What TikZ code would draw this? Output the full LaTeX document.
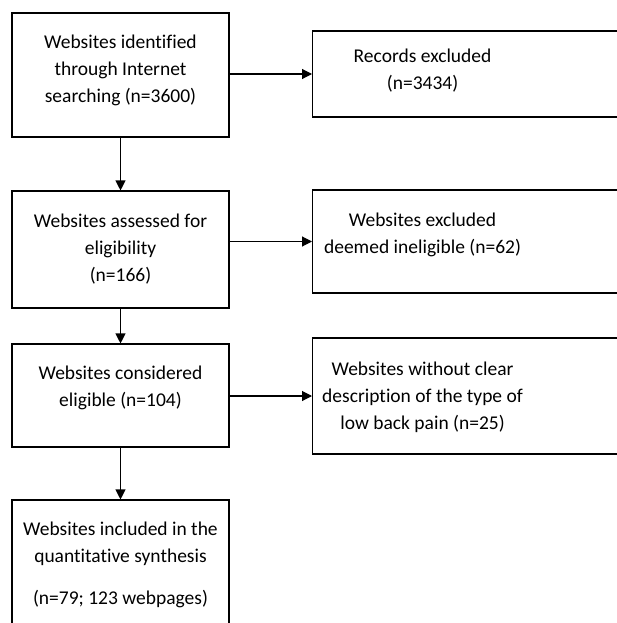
\documentclass[tikz,border=0pt]{standalone}
\usepackage{fontspec}
\setmainfont{Carlito}[Ligatures=NoCommon]
\usepackage{tikz}
\usetikzlibrary{arrows.meta, calc, positioning}

\tikzset{
    flowbox/.style={draw, line width=1.1pt, minimum width=217pt, align=center,
        font=\fontsize{19.5}{27}\selectfont},
    outbox/.style={draw, line width=1.1pt, minimum width=330pt, anchor=west},
    outtext/.style={align=center, font=\fontsize{19.5}{27}\selectfont},
    flowarrow/.style={draw, -{Triangle[length=10pt,width=10pt]}, line width=1.1pt}
}

\begin{document}
\begin{tikzpicture}[x=1pt, y=-1pt]
                        \clip (0,0) rectangle (617,623);
                        \fill[white] (0,0) rectangle (617,623);
                        % main column
                        \node[flowbox, minimum height=124pt, text depth=13pt] (web) at (120.5, 75) {Websites identified\\through Internet\\searching (n=3600)};
                        \node[flowbox, minimum height=117pt] (assess) at (120.5, 249.5) {Websites assessed for\\eligibility\\(n=166)};
                        \node[flowbox, minimum height=103pt, text depth=19pt] (consid) at (120.5, 395.5) {Websites considered\\eligible (n=104)};
                        \node[flowbox, minimum height=130pt] (incl) at (120.5, 565) {Websites included in the\\quantitative synthesis\\[15pt](n=79; 123 webpages)};
                        % exclusions
                        \node[outbox, minimum height=86pt, label={[outtext, xshift=-55pt, yshift=3pt]center:{Records excluded\\(n=3434)}}] (rec) at (312, 74) {};
                        \node[outbox, minimum height=103pt, label={[outtext, xshift=-55pt, yshift=7pt]center:{Websites excluded\\deemed ineligible (n=62)}}] (excl) at (312, 241.5) {};
                        \node[outbox, minimum height=116pt, label={[outtext, xshift=-55pt, yshift=-1.5pt]center:{Websites without clear\\description of the type of\\low back pain (n=25)}}] (lbp) at (312, 396) {};
                        \path
                        (web) edge[flowarrow] (assess)
                        (assess) edge[flowarrow] (consid)
                        (consid) edge[flowarrow] (incl)
                        (rec.west -| web.east) edge[flowarrow] (rec.west)
                        (excl.west -| assess.east) edge[flowarrow] (excl.west)
                        (lbp.west -| consid.east) edge[flowarrow] (lbp.west);
                    \end{tikzpicture}
\end{document}
